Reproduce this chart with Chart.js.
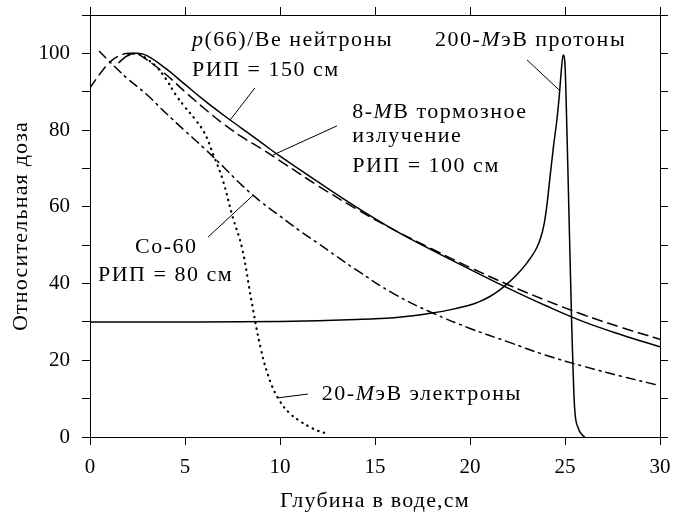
<!DOCTYPE html>
<html>
<head>
<meta charset="utf-8">
<script src="https://cdn.jsdelivr.net/npm/chart.js@4.4.0/dist/chart.umd.min.js"></script>
<style>
  html, body { margin: 0; padding: 0; background: #fff; }
  #wrap { width: 674px; height: 515px; }
</style>
</head>
<body>
<div id="wrap"><canvas id="chart" width="674" height="515"></canvas></div>
<script>
// Глубина в воде (см) и относительная доза (%) для каждого пучка
var neutronDepth = [1.5, 2, 2.5, 3, 4, 5, 6, 7, 8, 9, 10, 12, 14, 16, 18, 20, 22, 24, 26, 28, 30];
var neutronDose  = [97.5, 99.5, 100, 99.4, 96, 91.9, 87.8, 84, 80.4, 76.8, 73.2, 66.5, 60, 54, 48.7, 43.7, 38.8, 34.2, 30, 26.6, 23.5];

var photonDepth = [0, 0.5, 1, 1.5, 2, 2.5, 3, 4, 5, 6, 7, 8, 9, 10, 12, 14, 16, 18, 20, 22, 24, 26, 28, 30];
var photonDose  = [91, 94.5, 97.5, 99.3, 100, 99.8, 98.3, 94.5, 90, 85.7, 81.7, 78.2, 75.2, 72, 65.5, 59.5, 54, 49, 44.2, 39.7, 35.6, 31.8, 28.5, 25.5];

var cobaltDepth = [0.5, 1, 1.5, 2, 3, 4, 5, 6, 7, 8, 9, 10, 11, 12, 13, 14, 16, 18, 20, 22, 24, 26, 28, 30];
var cobaltDose  = [100.5, 98, 95.6, 93.3, 89.2, 84.4, 79.8, 75.3, 70.5, 65.6, 61.3, 57.6, 53.9, 50.5, 47, 43.6, 37.3, 32.4, 28.3, 24.8, 21.3, 18.4, 15.8, 13.4];

var electronDepth = [2, 2.5, 3, 3.5, 4, 4.5, 5, 5.5, 6, 6.5, 7, 7.5, 8, 8.5, 9, 9.5, 10, 10.5, 11, 11.5, 12, 12.4];
var electronDose  = [99.5, 100, 98.5, 96.5, 93.3, 89.3, 86, 83, 79.5, 73.5, 66.8, 57.5, 49.3, 35.5, 22.8, 14.3, 9.3, 6.2, 4.3, 2.8, 1.6, 1.0];

var protonDepth = [0, 5, 10, 12, 14, 15, 16, 17, 18, 19, 20, 20.5, 21, 21.5, 22, 22.5, 23, 23.5, 23.7, 23.9, 24.05, 24.2, 24.4, 24.56, 24.7, 24.8, 24.9, 25, 25.1, 25.2, 25.35, 25.5, 25.7, 25.9, 26.05];
var protonDose  = [30, 30, 30.1, 30.3, 30.6, 30.8, 31.1, 31.6, 32.3, 33.2, 34.4, 35.3, 36.5, 38.1, 40.1, 42.5, 45.4, 49.2, 51.6, 55.5, 60.5, 67.3, 76, 82.1, 89, 95.2, 99.6, 97, 80, 60, 30, 8, 2.3, 0.6, 0];

var xTicks = [0, 5, 10, 15, 20, 25, 30];
var yLabelTicks = [0, 20, 40, 60, 80, 100];

var FONT = "'Liberation Serif', 'DejaVu Serif', serif";

function toPoints(xs, ys) {
    return xs.map(function (x, i) { return { x: x, y: ys[i] }; });
}

function line(xs, ys, dash, width, mono) {
    return {
        data: toPoints(xs, ys),
        borderColor: '#000',
        borderWidth: width || 1.5,
        borderDash: dash,
        pointRadius: 0,
        fill: false,
        tension: 0.4,
        cubicInterpolationMode: mono ? 'monotone' : 'default',
        borderCapStyle: dash.length ? 'round' : 'butt'
    };
}

// Подписи и выноски (в координатах данных)
var notes = [
    { x: 5.37, y: 103.5, parts: [['p', true], ['(66)/Be нейтроны', false]] },
    { x: 5.37, y: 95.7, parts: [['РИП = 150 см', false]] },
    { x: 18.16, y: 103.5, parts: [['200-', false], ['М', true], ['эВ протоны', false]] },
    { x: 13.8, y: 84.7, parts: [['8-', false], ['М', true], ['В тормозное', false]] },
    { x: 13.8, y: 78.5, parts: [['излучение', false]] },
    { x: 13.8, y: 70.7, parts: [['РИП = 100 см', false]] },
    { x: 2.37, y: 49.5, parts: [['Co-60', false]] },
    { x: 0.42, y: 42.2, parts: [['РИП = 80 см', false]] },
    { x: 12.2, y: 11.2, parts: [['20-', false], ['М', true], ['эВ электроны', false]] }
];
var leaders = [
    [8.68, 91.0, 7.37, 82.6],
    [13.0, 81.1, 9.63, 73.5],
    [23.0, 98.3, 24.68, 90.5],
    [6.21, 52.1, 8.58, 63.0],
    [11.47, 11.2, 9.89, 10.2]
];

var notesPlugin = {
    id: 'notes',
    beforeDraw: function (chart) {
        // названия осей шире, как в оригинале
        chart.ctx.letterSpacing = '1.2px';
    },
    beforeDatasetsDraw: function (chart) {
        chart.ctx.letterSpacing = '0px';
    },
    afterDatasetsDraw: function (chart) {
        var ctx = chart.ctx, xs = chart.scales.x, ys = chart.scales.y;
        ctx.save();
        ctx.strokeStyle = '#000';
        ctx.lineWidth = 1;
        leaders.forEach(function (l) {
            ctx.beginPath();
            ctx.moveTo(xs.getPixelForValue(l[0]), ys.getPixelForValue(l[1]));
            ctx.lineTo(xs.getPixelForValue(l[2]), ys.getPixelForValue(l[3]));
            ctx.stroke();
        });
        ctx.fillStyle = '#000';
        ctx.textBaseline = 'middle';
        ctx.textAlign = 'left';
        ctx.letterSpacing = '1.5px';
        notes.forEach(function (n) {
            var px = xs.getPixelForValue(n.x);
            var py = ys.getPixelForValue(n.y);
            n.parts.forEach(function (p) {
                ctx.font = (p[1] ? 'italic ' : '') + '22px ' + FONT;
                ctx.fillText(p[0], px, py);
                px += ctx.measureText(p[0]).width;
            });
        });
        ctx.restore();
        ctx.letterSpacing = '0px';
    }
};

var tickFont = { family: FONT, size: 21 };
var titleFont = { family: FONT, size: 22 };
var axisGrid = { drawOnChartArea: false, drawTicks: true, tickLength: 8, color: '#000' };
var axisBorder = { display: true, color: '#000', width: 1 };

// фиксированный размер оси и без дополнительного отступа под подписи
function fixSize(w, h) {
    return function (s) {
        if (w) s.width = w;
        if (h) s.height = h;
        s.paddingLeft = s.paddingRight = s.paddingTop = s.paddingBottom = 0;
    };
}

new Chart(document.getElementById('chart').getContext('2d'), {
    type: 'line',
    data: {
        datasets: [
            line(neutronDepth, neutronDose, []),
            line(photonDepth, photonDose, [10, 6]),
            line(cobaltDepth, cobaltDose, [9, 5, 2, 5]),
            line(electronDepth, electronDose, [0.5, 5.5], 2.2),
            line(protonDepth, protonDose, [], 1.5, true)
        ]
    },
    options: {
        responsive: false,
        animation: false,
        layout: { autoPadding: false, padding: { left: 0, right: 6, top: 7, bottom: 0 } },
        plugins: { legend: { display: false }, tooltip: { enabled: false } },
        scales: {
            x: {
                type: 'linear', position: 'bottom', min: 0, max: 30,
                afterBuildTicks: function (s) { s.ticks = xTicks.map(function (v) { return { value: v }; }); },
                afterFit: fixSize(0, 78),
                ticks: { font: tickFont, color: '#000', padding: 10, maxRotation: 0, z: 1 },
                grid: axisGrid, border: axisBorder,
                title: { display: true, text: 'Глубина в воде,см', color: '#000', font: titleFont, padding: { top: 0, bottom: 1 } }
            },
            xTop: {
                type: 'linear', position: 'top', min: 0, max: 30,
                afterBuildTicks: function (s) { s.ticks = xTicks.map(function (v) { return { value: v }; }); },
                afterFit: fixSize(0, 8),
                ticks: { display: false },
                grid: axisGrid, border: axisBorder
            },
            y: {
                type: 'linear', position: 'left', min: 0, max: 110,
                afterFit: fixSize(90, 0),
                ticks: {
                    stepSize: 10, font: tickFont, color: '#000', padding: 12, z: 1,
                    callback: function (v) { return yLabelTicks.indexOf(v) >= 0 ? String(v) : ''; }
                },
                grid: axisGrid, border: axisBorder,
                title: { display: true, text: 'Относительная доза', color: '#000', font: titleFont, padding: { top: 8, bottom: 0 } }
            },
            yRight: {
                type: 'linear', position: 'right', min: 0, max: 110,
                afterFit: fixSize(8, 0),
                ticks: { display: false, stepSize: 10 },
                grid: axisGrid, border: axisBorder
            }
        }
    },
    plugins: [notesPlugin]
});
</script>
</body>
</html>
